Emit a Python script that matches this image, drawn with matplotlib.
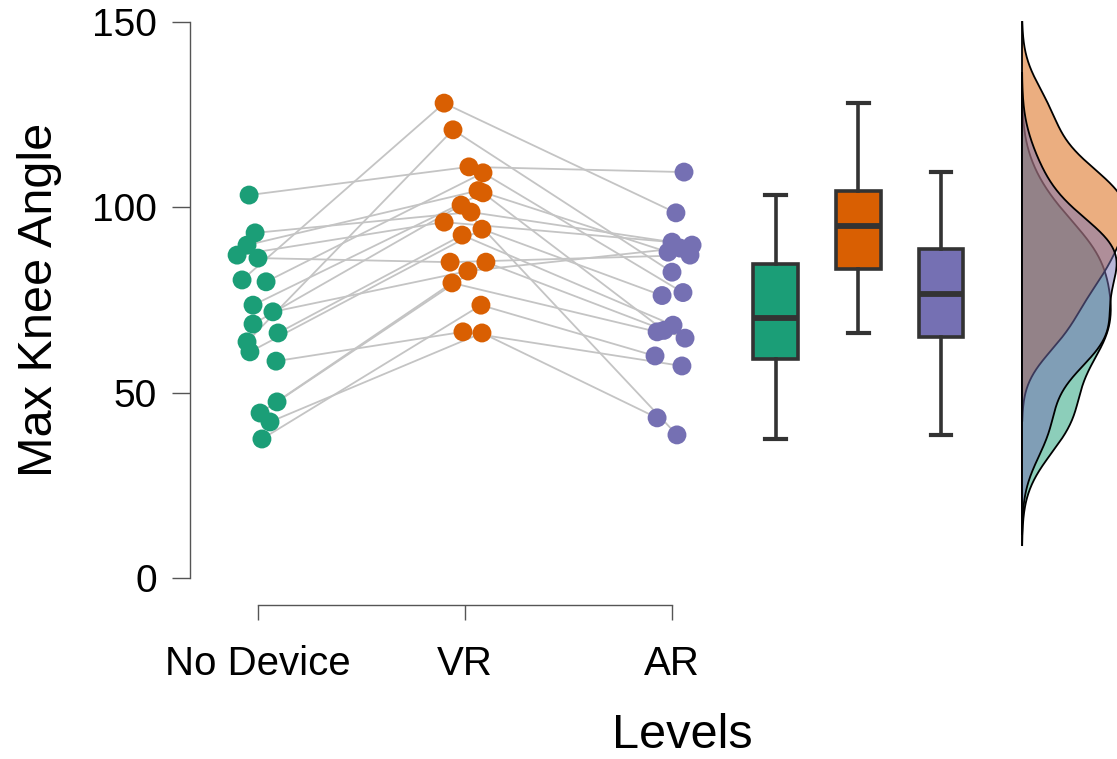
import numpy as np
import matplotlib

matplotlib.use("Agg")
import matplotlib.pyplot as plt  # noqa: E402

plt.rcParams["font.family"] = ["Liberation Sans", "DejaVu Sans"]

# --- data (one row per participant) ---
levels = ["No Device", "VR", "AR"]
no_device = [103.3, 80.4, 63.7, 93.1, 89.8, 87.1, 86.3, 79.9, 73.6,
             71.8, 68.5, 66.1, 61.0, 58.5, 47.5, 44.5, 42.1, 37.5]
vr = [110.9, 128.1, 120.9, 98.7, 104.5, 96.0, 85.2, 109.3, 103.9,
      82.8, 100.6, 92.5, 94.1, 66.4, 85.2, 79.6, 66.1, 73.6]
ar = [109.5, 98.5, 82.5, 89.8, 87.9, 90.6, 87.1, 77.0, 66.8,
      89.0, 38.6, 68.2, 76.2, 57.2, 64.7, 66.4, 43.2, 59.9]

# horizontal jitter of the dots (axis units)
jit_nd = [-0.043, -0.077, -0.053, -0.014, -0.053, -0.101, 0.0, 0.039, -0.024,
          0.072, -0.024, 0.097, -0.039, 0.087, 0.092, 0.010, 0.058, 0.019]
jit_vr = [0.019, -0.101, -0.058, 0.029, 0.063, -0.101, -0.072, 0.087, 0.087,
          0.014, -0.019, -0.014, 0.082, -0.010, 0.101, -0.063, 0.082, 0.077]
jit_ar = [0.058, 0.019, 0.0, 0.097, -0.019, 0.0, 0.087, 0.053, -0.039,
          0.039, 0.024, 0.005, -0.048, 0.048, 0.063, -0.072, -0.072, -0.082]

colors = ["#1b9e77", "#d95f02", "#7570b3"]
groups = [no_device, vr, ar]
jitters = [jit_nd, jit_vr, jit_ar]


def nrd0(x):
    x = np.asarray(x)
    q75, q25 = np.percentile(x, [75, 25])
    lo = min(np.std(x, ddof=1), (q75 - q25) / 1.34)
    return 0.9 * lo * len(x) ** -0.2


def kde(x, bw, grid):
    x = np.asarray(x)[:, None]
    z = (grid[None, :] - x) / bw
    return np.exp(-0.5 * z ** 2).sum(axis=0) / (len(x) * bw * np.sqrt(2 * np.pi))


W, H = 1117, 759
fig = plt.figure(figsize=(W / 100, H / 100), dpi=100)
ax = fig.add_axes([190 / W, 1 - 605 / H, 1 - 190 / W, (605 - 10) / H])
ax.set_xlim(1 - 68 / 207, 1 + 859 / 207)
ax.set_ylim((578 - 605) / 3.707, (578 - 10) / 3.707)

# paired lines
for k in range(len(no_device)):
    xs = [1 + jit_nd[k], 2 + jit_vr[k], 3 + jit_ar[k]]
    ys = [no_device[k], vr[k], ar[k]]
    ax.plot(xs, ys, color="#c4c4c4", lw=1.3, zorder=1)

# dots
for i, (vals, jit) in enumerate(zip(groups, jitters)):
    xs = [i + 1 + j for j in jit]
    ax.scatter(xs, vals, s=185, color=colors[i], edgecolors="none", zorder=3)

# box plots
bp = ax.boxplot(groups, positions=[3.5, 3.9, 4.3], widths=0.215, patch_artist=True,
                showfliers=False, capwidths=0.1,
                boxprops=dict(edgecolor="#333333", linewidth=2.6),
                medianprops=dict(color="#333333", linewidth=4.2),
                whiskerprops=dict(color="#333333", linewidth=2.6),
                capprops=dict(color="#333333", linewidth=3.0))
for patch, c in zip(bp["boxes"], colors):
    patch.set_facecolor(c)

# half densities (shared scale, density -> axis units)
x0 = 1 + (1022 - 258) / 207
dens_scale = 5000 / 207
for vals, c in zip(groups, colors):
    bw = nrd0(vals)
    lo = min(vals) - 3 * bw
    hi = min(max(vals) + 3 * bw, 150)
    grid = np.linspace(lo, hi, 512)
    d = kde(vals, bw, grid) * dens_scale
    ax.fill_betweenx(grid, x0, x0 + d, facecolor=c, alpha=0.5, edgecolor="none", zorder=2)
    ax.plot(x0 + d, grid, color="black", lw=1.3, zorder=2)
    ax.plot([x0, x0], [lo, hi], color="black", lw=1.3, zorder=2)

# axes styling
for s in ["top", "right"]:
    ax.spines[s].set_visible(False)
ax.spines["left"].set_bounds(0, 150)
ax.spines["bottom"].set_bounds(1, 3)
for s in ["left", "bottom"]:
    ax.spines[s].set_color("#555555")
    ax.spines[s].set_linewidth(1.0)
ax.set_yticks([0, 50, 100, 150])
ax.set_xticks([1, 2, 3])
ax.set_xticklabels(levels)
ax.tick_params(axis="y", length=13, width=1.0, color="#555555", pad=11, labelsize=28)
ax.tick_params(axis="x", length=11, width=1.0, color="#555555", pad=18, labelsize=29)

fig.text(40 / W, 1 - 300 / H, "Max Knee Angle", rotation=90, ha="center", va="center",
         fontsize=35)
fig.text(682 / W, 1 - 735 / H, "Levels", ha="center", va="center", fontsize=35)

fig.savefig("out.png", dpi=100)
